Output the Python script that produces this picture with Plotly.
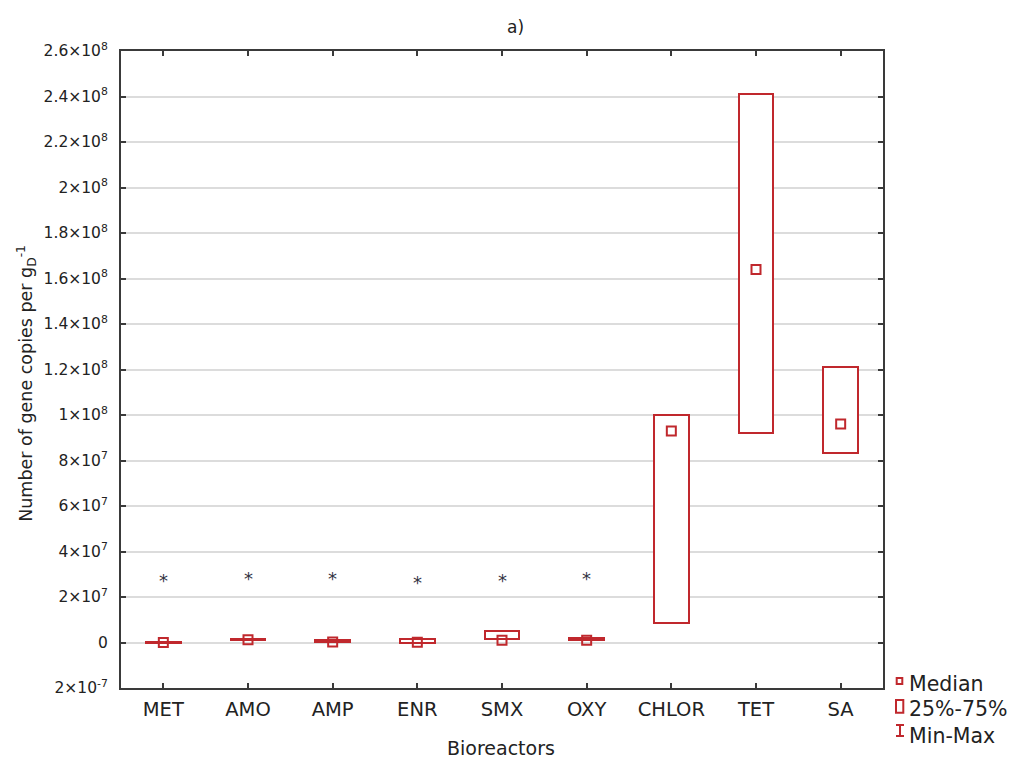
import plotly.graph_objects as go

# Gene copy counts per bioreactor (copies per g of dry mass)
categories = ["MET", "AMO", "AMP", "ENR", "SMX", "OXY", "CHLOR", "TET", "SA"]
q1_vals = [0.0e6, 1.1e6, 0.2e6, 0.0e6, 1.5e6, 1.3e6, 8.7e6, 92.0e6, 83.5e6]
q3_vals = [0.3e6, 1.5e6, 0.9e6, 1.4e6, 5.0e6, 2.2e6, 100.0e6, 241.0e6, 121.0e6]
median_vals = [0.0e6, 1.2e6, 0.2e6, 0.1e6, 1.0e6, 1.0e6, 93.0e6, 164.0e6, 96.0e6]

# significance markers above the low-abundance reactors
star_cats = ["MET", "AMO", "AMP", "ENR", "SMX", "OXY"]
star_vals = [2.77e7, 2.85e7, 2.85e7, 2.70e7, 2.78e7, 2.86e7]

y_tick_vals = [-2e7, 0, 2e7, 4e7, 6e7, 8e7, 1e8, 1.2e8, 1.4e8, 1.6e8,
               1.8e8, 2e8, 2.2e8, 2.4e8, 2.6e8]
y_tick_text = ["2×10<sup>-7</sup>", "0", "2×10<sup>7</sup>", "4×10<sup>7</sup>",
               "6×10<sup>7</sup>", "8×10<sup>7</sup>", "1×10<sup>8</sup>",
               "1.2×10<sup>8</sup>", "1.4×10<sup>8</sup>", "1.6×10<sup>8</sup>",
               "1.8×10<sup>8</sup>", "2×10<sup>8</sup>", "2.2×10<sup>8</sup>",
               "2.4×10<sup>8</sup>", "2.6×10<sup>8</sup>"]

RED = "#c0282d"
FRAME = "#3a3a3a"
TEXT = "#222222"
FONT = "DejaVu Sans, Verdana, sans-serif"

fig = go.Figure()

# 25%-75% boxes
fig.add_trace(go.Bar(
    x=categories,
    y=[hi - lo for lo, hi in zip(q1_vals, q3_vals)],
    base=q1_vals,
    width=0.41,
    marker=dict(color="white", line=dict(color=RED, width=2)),
    showlegend=False,
    hoverinfo="skip",
))

# medians
fig.add_trace(go.Scatter(
    x=categories, y=median_vals, mode="markers",
    marker=dict(symbol="square-open", size=9, color=RED, line=dict(width=2, color=RED)),
    showlegend=False, hoverinfo="skip",
))

axis_common = dict(
    showline=True, linecolor=FRAME, linewidth=2, mirror="allticks",
    ticks="inside", ticklen=5, tickwidth=2, tickcolor=FRAME,
    automargin=False,
)

fig.update_layout(
    width=1014, height=760,
    margin=dict(l=121, r=131, t=51, b=72),
    paper_bgcolor="white", plot_bgcolor="white",
    font=dict(family=FONT, color=TEXT),
    bargap=0,
    xaxis=dict(
        type="category", range=[-0.5, 8.5], showgrid=False,
        tickfont=dict(size=19.5, color=TEXT), ticklabelstandoff=3,
        **axis_common,
    ),
    yaxis=dict(
        range=[-2e7, 2.6e8], tickvals=y_tick_vals, ticktext=y_tick_text,
        showgrid=True, gridcolor="#dcdcdc", gridwidth=2, zeroline=False,
        tickfont=dict(size=15.5, color=TEXT), ticklabelstandoff=8,
        **axis_common,
    ),
)

# asterisks
for cat, val in zip(star_cats, star_vals):
    fig.add_annotation(x=cat, y=val, text="*", showarrow=False,
                       xanchor="center", yanchor="middle", yshift=-1,
                       font=dict(size=18, color="#333344"))

# axis titles
fig.add_annotation(text="Bioreactors", xref="paper", yref="paper",
                   x=0.4987, y=-0.0942, showarrow=False,
                   xanchor="center", yanchor="middle",
                   font=dict(size=19, color=TEXT))
fig.add_annotation(text="Number of gene copies per g<sub>D</sub><sup>-1</sup>",
                   xref="paper", yref="paper", x=-0.1234, y=0.479,
                   textangle=-90, showarrow=False,
                   xanchor="center", yanchor="middle",
                   font=dict(size=17.5, color=TEXT))

# panel title
fig.add_annotation(text="a)", xref="paper", yref="paper", x=0.518, y=1.038,
                   showarrow=False, font=dict(size=17, color=TEXT),
                   xanchor="center", yanchor="middle")

# legend
leg_x = 1.0315
for label, ypos in [("Median", 0.0063), ("25%-75%", -0.033), ("Min-Max", -0.0746)]:
    fig.add_annotation(text=label, xref="paper", yref="paper", x=leg_x, y=ypos,
                       showarrow=False, xanchor="left", yanchor="middle",
                       font=dict(size=20.5, color=TEXT))


def px_x(px):
    return (px - 121) / 762


def px_y(py):
    return (688 - py) / 637


legend_shapes = [
    dict(type="rect", x0=px_x(896.7), x1=px_x(902.3), y0=px_y(684), y1=px_y(678)),
    dict(type="rect", x0=px_x(896), x1=px_x(903.3), y0=px_y(712.7), y1=px_y(700)),
    dict(type="line", x0=px_x(900), x1=px_x(900), y0=px_y(736), y1=px_y(725)),
    dict(type="line", x0=px_x(896), x1=px_x(904), y0=px_y(725), y1=px_y(725)),
    dict(type="line", x0=px_x(896), x1=px_x(904), y0=px_y(736), y1=px_y(736)),
]
for s in legend_shapes:
    fig.add_shape(xref="paper", yref="paper", line=dict(color=RED, width=2), **s)

fig.write_html("out.html")
